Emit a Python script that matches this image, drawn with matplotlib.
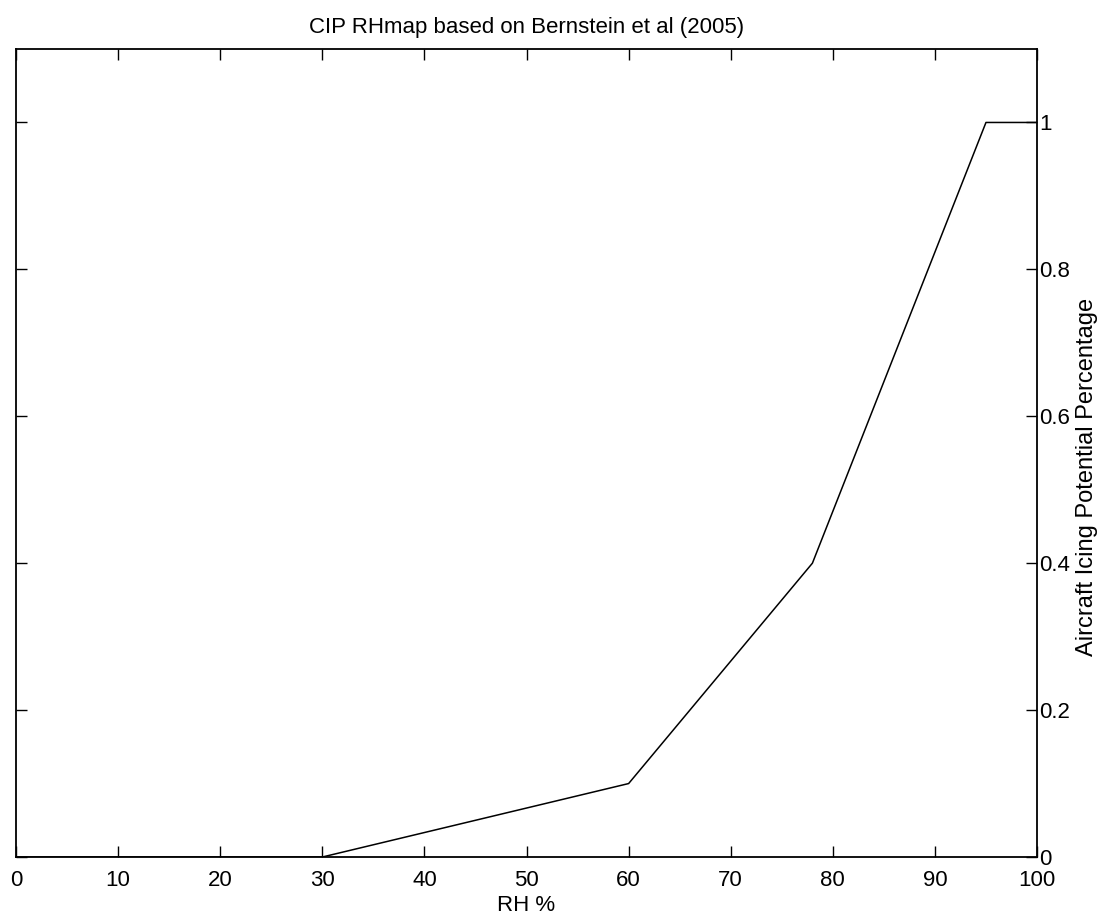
import numpy as np
import matplotlib
matplotlib.use("Agg")
import matplotlib.pyplot as plt

# RH map breakpoints
rh = [0, 30, 60, 78, 95, 100]
potential = [0, 0, 0.1, 0.4, 1.0, 1.0]
x_ticks = [0, 10, 20, 30, 40, 50, 60, 70, 80, 90, 100]
y_ticks = [0, 0.2, 0.4, 0.6, 0.8, 1]
y_tick_labels = ["0", "0.2", "0.4", "0.6", "0.8", "1"]


def main():
    plt.rcParams['font.family'] = ['Liberation Sans', 'DejaVu Sans']

    fig = plt.figure(figsize=(10.99, 9.16), dpi=100)
    ax = fig.add_axes([0.0146, 0.0644, 0.929, 0.8821])

    ax.plot(rh, potential, color='black', linewidth=1.1)

    ax.set_xlim(0, 100)
    ax.set_ylim(0, 1.1)
    ax.set_xticks(x_ticks)
    ax.set_yticks(y_ticks)
    ax.set_yticklabels(y_tick_labels)

    ax.yaxis.tick_right()
    ax.yaxis.set_label_position('right')
    ax.tick_params(axis='both', direction='in', length=8, width=1,
                   top=True, bottom=True, left=True, right=True,
                   labelsize=16, colors='black')
    ax.tick_params(axis='x', pad=9.5)
    ax.tick_params(axis='y', pad=1.5)
    for s in ax.spines.values():
        s.set_linewidth(1.3)

    ax.set_xlabel("RH %", fontsize=16, labelpad=3)
    ax.set_ylabel("Aircraft Icing Potential Percentage", fontsize=17, labelpad=4)
    ax.yaxis.label.set_y(0.47)
    ax.set_title("CIP RHmap based on Bernstein et al (2005)", fontsize=16, pad=11.5)

    plt.savefig("out.png", dpi=100)


if __name__ == '__main__':
    main()
